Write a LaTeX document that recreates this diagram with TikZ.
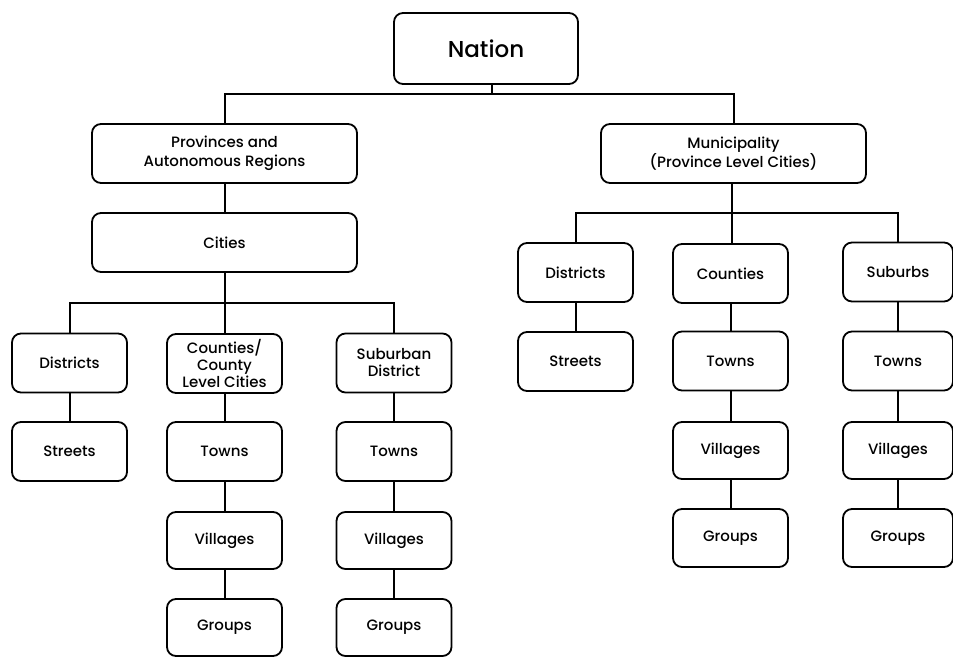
\documentclass[tikz,border=0pt]{standalone}
\usepackage{fontspec}
\setmainfont{Poppins}[UprightFont=* Medium]
\begin{document}
\begin{tikzpicture}[x=1pt,y=-1pt,
  bx/.style={draw=black, line width=1.8pt, rounded corners=9pt, inner sep=0pt,
    align=center, minimum width=115pt, minimum height=59pt,
    font=\fontsize{15}{17}\selectfont},
  wide/.style={minimum width=265pt, font=\fontsize{15}{19}\selectfont},
  narrow/.style={minimum width=110pt},
  ln/.style={line width=2pt, black}]
\useasboundingbox (0,0) rectangle (953,656);
% top
\node[bx, minimum width=184pt, minimum height=71pt, font=\fontsize{23}{26}\selectfont] (nation) at (486,48.5) {Nation};
\node[bx, wide] (prov) at (224.5,153.5) {Provinces and\\Autonomous Regions};
\node[bx, wide] (muni) at (733.5,153.5) {Municipality\\(Province Level Cities)};
\node[bx, wide] (cities) at (224.5,242.5) {Cities};
% left block
\node[bx] (ldis) at (69.5,363) {Districts};
\node[bx] (lstr) at (69.5,451.5) {Streets};
\node[bx] (lcou) at (224.5,363.5) {Counties/\\County\\Level Cities};
\node[bx] (ltow1) at (224.5,451.5) {Towns};
\node[bx, minimum height=57pt] (lvil1) at (224.5,540.5) {Villages};
\node[bx, minimum height=57pt] (lgro1) at (224.5,627.5) {Groups};
\node[bx] (lsub) at (394,363) {Suburban\\District};
\node[bx] (ltow2) at (394,451.5) {Towns};
\node[bx, minimum height=57pt] (lvil2) at (394,540.5) {Villages};
\node[bx, minimum height=57pt] (lgro2) at (394,627.5) {Groups};
% right block
\node[bx] (rdis) at (575.5,272.5) {Districts};
\node[bx] (rstr) at (575.5,361.5) {Streets};
\node[bx] (rcou) at (730.5,273.5) {Counties};
\node[bx] (rtow1) at (730.5,361) {Towns};
\node[bx, minimum height=57pt] (rvil1) at (730.5,450.5) {Villages};
\node[bx, minimum height=58pt] (rgro1) at (730.5,538) {Groups};
\node[bx, narrow] (rsub) at (898,272) {Suburbs};
\node[bx, narrow] (rtow2) at (898,361) {Towns};
\node[bx, narrow, minimum height=57pt] (rvil2) at (898,450.5) {Villages};
\node[bx, narrow, minimum height=58pt] (rgro2) at (898,538) {Groups};
% junctions
\coordinate (j0) at (492,94);
\coordinate (j1) at (224.5,303);
\coordinate (j2) at (732,213);
% connectors
\draw[ln] (nation.south -| j0) -- (j0);
\draw[ln] (prov.north) |- (j0) -| (muni.north);
\draw[ln] (prov) -- (cities);
\draw[ln] (cities.south) -- (j1) -- (lcou.north);
\draw[ln] (ldis.north) |- (j1) -| (lsub.north);
\draw[ln] (ldis) -- (lstr);
\draw[ln] (lcou) -- (ltow1);
\draw[ln] (ltow1) -- (lvil1);
\draw[ln] (lvil1) -- (lgro1);
\draw[ln] (lsub) -- (ltow2);
\draw[ln] (ltow2) -- (lvil2);
\draw[ln] (lvil2) -- (lgro2);
\draw[ln] (muni.south -| j2) -- (j2) -- (rcou.north -| j2);
\draw[ln] (rdis.north) |- (j2) -| (rsub.north);
\draw[ln] (rdis) -- (rstr);
\draw[ln] (rcou) -- (rtow1);
\draw[ln] (rtow1) -- (rvil1);
\draw[ln] (rvil1) -- (rgro1);
\draw[ln] (rsub) -- (rtow2);
\draw[ln] (rtow2) -- (rvil2);
\draw[ln] (rvil2) -- (rgro2);
\end{tikzpicture}
\end{document}
